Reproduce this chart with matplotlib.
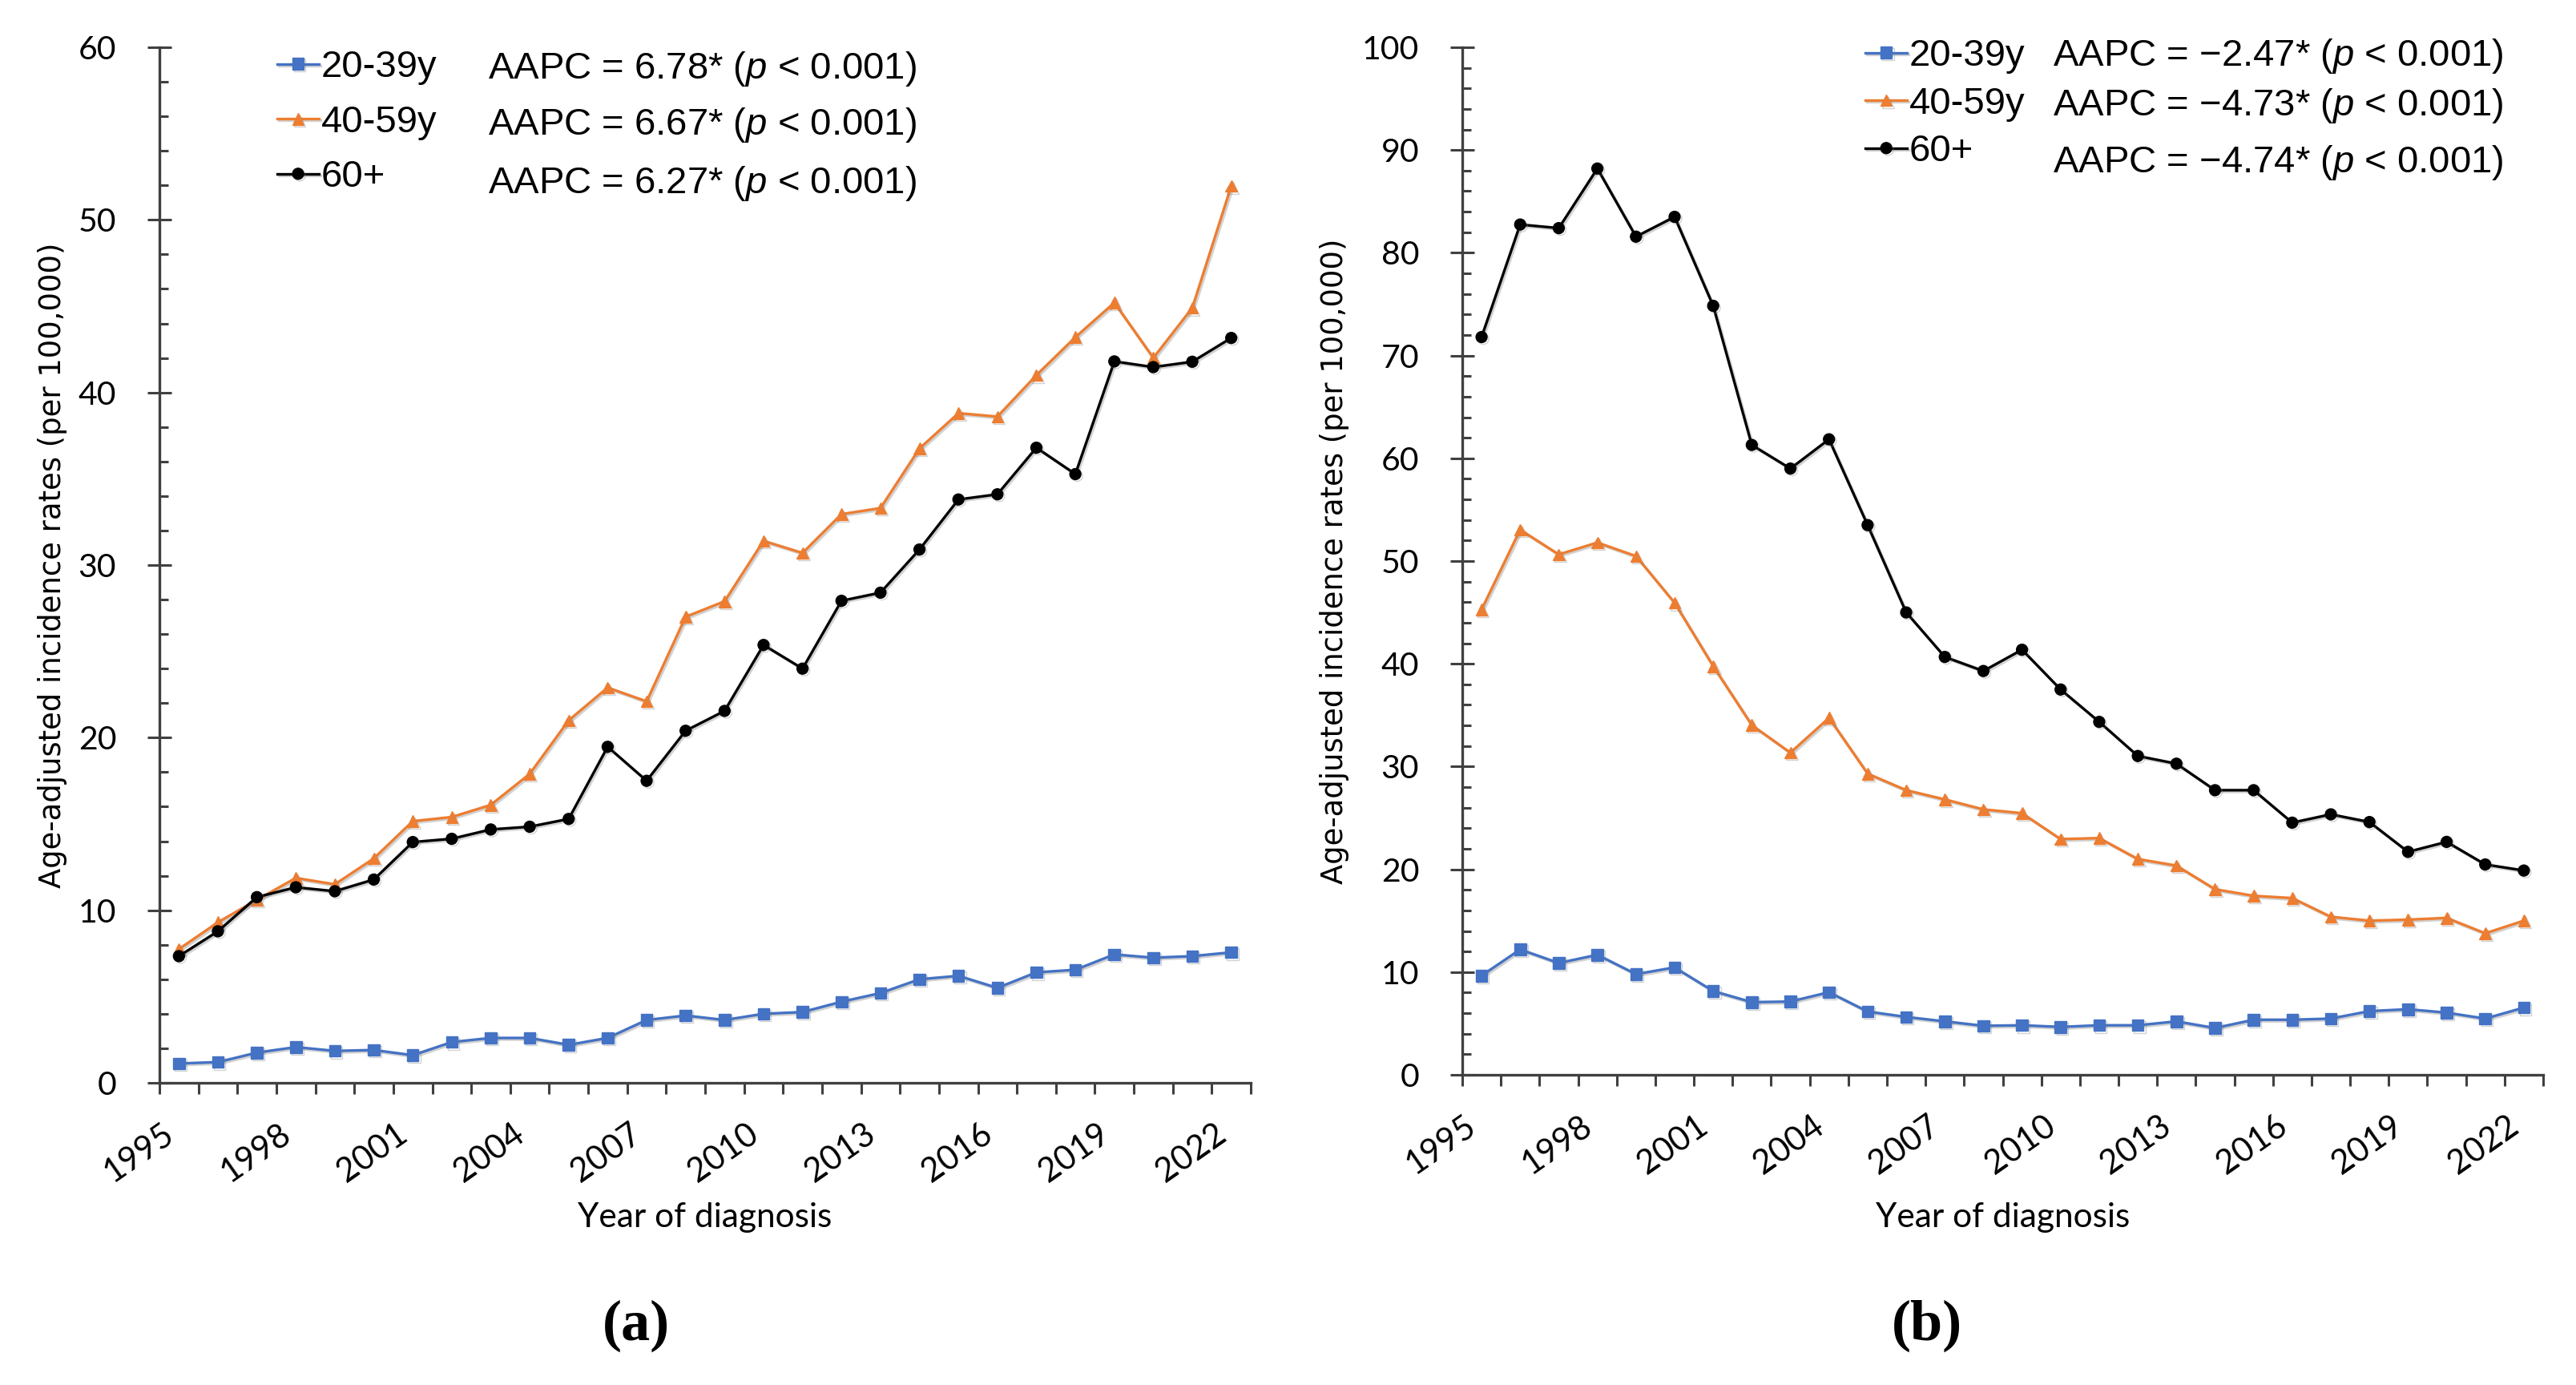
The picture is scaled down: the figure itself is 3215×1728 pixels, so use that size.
import numpy as np
import matplotlib
matplotlib.use("Agg")
import matplotlib.pyplot as plt
import matplotlib.patheffects as pe

plt.rcParams['mathtext.fontset'] = 'custom'
plt.rcParams['mathtext.rm'] = 'Liberation Sans'
plt.rcParams['mathtext.it'] = 'Liberation Sans:italic'

years = list(range(1995, 2023))
groups = ["20-39y", "40-59y", "60+"]

# panel (a)
a_20_39 = [1.12, 1.2, 1.75, 2.07, 1.85, 1.9, 1.6, 2.36, 2.6, 2.6, 2.2, 2.6, 3.64, 3.9,
           3.64, 4.0, 4.1, 4.7, 5.2, 6.0, 6.2, 5.5, 6.4, 6.55, 7.44, 7.25, 7.34, 7.56]
a_40_59 = [7.75, 9.3, 10.6, 11.87, 11.5, 13.0, 15.16, 15.4, 16.1, 17.9, 21.0, 22.9, 22.1, 27.0,
           27.9, 31.4, 30.7, 32.95, 33.3, 36.75, 38.8, 38.6, 41.0, 43.2, 45.2, 42.0, 44.9, 51.96]
a_60 = [7.34, 8.78, 10.76, 11.33, 11.1, 11.78, 13.95, 14.14, 14.68, 14.84, 15.29, 19.47, 17.5, 20.4,
        21.55, 25.37, 24.0, 27.93, 28.4, 30.9, 33.8, 34.1, 36.8, 35.27, 41.8, 41.47, 41.78, 43.16]
a_aapc = ["6.78", "6.67", "6.27"]

# panel (b)
b_20_39 = [9.65, 12.2, 10.88, 11.68, 9.8, 10.45, 8.15, 7.07, 7.13, 8.04, 6.16, 5.63, 5.2, 4.77,
           4.82, 4.66, 4.82, 4.82, 5.2, 4.55, 5.36, 5.36, 5.47, 6.2, 6.38, 6.05, 5.47, 6.54]
b_40_59 = [45.28, 53.05, 50.64, 51.8, 50.48, 45.93, 39.76, 34.03, 31.35, 34.73, 29.31, 27.7, 26.8, 25.83,
           25.46, 22.94, 23.04, 21.0, 20.36, 18.06, 17.42, 17.2, 15.38, 15.0, 15.1, 15.27, 13.77, 15.0]
b_60 = [71.8, 82.75, 82.4, 88.2, 81.57, 83.5, 74.84, 61.3, 59.0, 61.85, 53.5, 45.0, 40.67, 39.3,
        41.37, 37.5, 34.35, 31.03, 30.28, 27.7, 27.7, 24.54, 25.35, 24.6, 21.7, 22.67, 20.47, 19.88]
b_aapc = ["\u22122.47", "\u22124.73", "\u22124.74"]

colors = ['#4472C4', '#ED7D31', '#000000']
markers = ['s', '^', 'o']
msizes = [10.5, 10.5, 10]
axis_col = '#404040'
W, H = 3215, 1728


def draw_panel(ax, series, aapc, ymax, ylab_x, xlab_y, leg_x, leg_top, leg_sp, aapc_x, aapc_base):
    x = np.arange(len(years))
    hands = []
    # soft drop shadow like the Excel original
    shadow = [pe.SimpleLineShadow(offset=(1.5, -1.5), shadow_color='gray', alpha=0.35), pe.Normal()]
    for s, c, m, ms in zip(series, colors, markers, msizes):
        ln, = ax.plot(x, s, color=c, lw=2.4, marker=m, ms=ms, mec=c, mfc=c, zorder=3,
                      path_effects=shadow)
        hands.append(ln)

    ax.set_xlim(-0.5, len(years) - 0.5)
    ax.set_ylim(0, ymax)
    ax.set_xticks(x[::3])
    ax.set_xticklabels([str(years[i]) for i in x[::3]], rotation=35, ha='right', va='top')
    ax.set_xticks(np.arange(-0.5, len(years), 1), minor=True)
    ax.set_yticks(np.arange(0, ymax + 1, 10))
    ax.set_yticks(np.arange(0, ymax + 1, 2), minor=True)

    ax.tick_params(axis='x', which='major', length=0, pad=32, labelsize=30)
    ax.tick_params(axis='x', which='minor', length=10, width=2.2, direction='out', color=axis_col)
    ax.tick_params(axis='y', which='major', length=21.5, width=2.2, direction='inout', pad=28,
                   labelsize=29.5, color=axis_col)
    ax.tick_params(axis='y', which='minor', length=8, width=2.2, direction='in', color=axis_col)
    for lbl in ax.get_xticklabels() + ax.get_yticklabels():
        lbl.set_family('Lato')

    for sp in ['top', 'right']:
        ax.spines[sp].set_visible(False)
    for sp in ['left', 'bottom']:
        ax.spines[sp].set_linewidth(2.4)
        ax.spines[sp].set_color(axis_col)

    ax.set_ylabel("Age-adjusted incidence rates (per 100,000)", family='DejaVu Sans', fontsize=26.6)
    ax.yaxis.set_label_coords(ylab_x, 0.5)
    ax.yaxis.label.set_va('center')
    ax.set_xlabel("Year of diagnosis", family='Lato', fontsize=30.5)
    ax.xaxis.set_label_coords(0.5, xlab_y)
    ax.xaxis.label.set_va('center')

    ax.legend(hands, groups, loc='upper left', bbox_to_anchor=(leg_x, leg_top), frameon=False,
              prop={'family': 'Liberation Sans', 'size': 34}, handlelength=1.1, handletextpad=0.05,
              labelspacing=leg_sp, borderpad=0, borderaxespad=0)

    # AAPC column next to the legend, baselines in figure pixels
    for val, yb in zip(aapc, aapc_base):
        fig.text(aapc_x / W, 1 - yb / H, "AAPC = %s* ($p$ < 0.001)" % val,
                 family='Liberation Sans', fontsize=34, va='baseline', ha='left')


fig = plt.figure(figsize=(W / 100, H / 100), dpi=100)
ax1 = fig.add_axes([199 / W, 1 - 1351 / H, 1362 / W, 1292 / H])
ax2 = fig.add_axes([1825 / W, 1 - 1341 / H, 1349 / W, 1282 / H])

draw_panel(ax1, [a_20_39, a_40_59, a_60], a_aapc, 60, -0.0977, -0.130,
           0.108, 0.9975, 0.52, 609, [98, 168, 241])
draw_panel(ax2, [b_20_39, b_40_59, b_60], b_aapc, 100, -0.1186, -0.139,
           0.373, 1.0085, 0.33, 2562, [82, 144, 215])

fig.text(794 / W, 1 - 1654 / H, "(a)", family='Liberation Serif', weight='bold', fontsize=52,
         ha='center', va='center')
fig.text(2405 / W, 1 - 1654 / H, "(b)", family='Liberation Serif', weight='bold', fontsize=52,
         ha='center', va='center')

fig.savefig("out.png", dpi=100)
